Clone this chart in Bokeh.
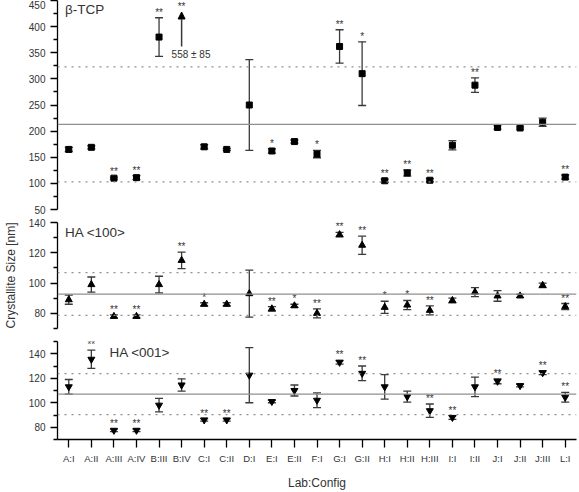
from bokeh.plotting import figure
from bokeh.models import (ColumnDataSource, Whisker, Span, FixedTicker, Label,
                          TeeHead, Arrow, NormalHead, Range1d)
from bokeh.layouts import column
from bokeh.embed import file_html
from bokeh.resources import INLINE
from bokeh.core.properties import value

# ---------------- data ----------------
configs = ["A:I", "A:II", "A:III", "A:IV", "B:III", "B:IV", "C:I", "C:II", "D:I",
           "E:I", "E:II", "F:I", "G:I", "G:II", "H:I", "H:II", "H:III", "I:I",
           "I:II", "J:I", "J:II", "J:III", "L:I"]

# beta-TCP crystallite size [nm]
tcp_mean = [165, 169, 110, 111, 380, 558, 170, 165, 250, 162, 180, 156, 362, 310,
            105, 120, 106, 173, 288, 207, 206, 217, 112]
tcp_err = [4, 3, 2, 4, 37, 85, 4, 2, 87, 4, 3, 7, 32, 61, 3, 6, 3, 9, 14, 3, 2, 8, 4]
tcp_sig = ["", "", "**", "**", "**", "**", "", "", "", "*", "", "*", "**", "*",
           "**", "**", "**", "", "**", "", "", "", "**"]
tcp_ref = [213, 103, 323]          # mean, lower, upper

# HA <100>
ha100_mean = [89, 99, 78, 78, 99, 115, 86, 86, 93, 83, 85, 80, 132, 125, 84, 85.5,
              82, 88.5, 94, 91.5, 91.5, 98.5, 84.5]
ha100_err = [3, 5, 1, 1, 5.5, 5.5, 1, 1, 15.5, 1.5, 1, 3, 1.5, 6, 4, 3, 3, 1.5, 3,
             3.5, 1, 1.5, 2]
ha100_sig = ["", "", "**", "**", "", "**", "*", "", "", "**", "*", "**", "**", "**",
             "*", "*", "**", "", "", "", "", "", "**"]
ha100_ref = [92.7, 78.7, 106.9]

# HA <001>
ha001_mean = [113, 135.5, 77.5, 77.5, 98, 114.5, 86, 86, 122.5, 101, 110, 102, 133,
              124, 113, 105, 93.5, 88, 113, 117.5, 114, 124.5, 104.5]
ha001_err = [6, 7.5, 1, 1, 5.5, 5, 1, 1, 22.5, 1, 4.5, 6, 1.5, 6, 10, 4.5, 5.5,
             1.5, 8, 2, 1, 1.5, 4]
ha001_sig = ["", "**", "**", "**", "", "", "**", "**", "", "", "", "", "**", "**",
             "", "", "**", "**", "", "**", "", "**", "**"]
ha001_ref = [107, 90.3, 123.8]

panel_titles = ["β-TCP", "HA <100>", "HA <001>"]
x_title = "Lab:Config"
y_title = "Crystallite Size [nm]"

# ---------------- style ----------------
FONT = "Liberation Sans"
TXT = "#333333"
BAR = "#3a3a3a"
REF = "#8f8f8f"


def make_panel(mean, err, sig, ref, y0, y1, major, minor, marker, msize,
               height, b_top, b_bottom, show_x):
    p = figure(x_range=configs, y_range=Range1d(y0, y1), width=579, height=height,
               output_backend="svg", toolbar_location=None,
               x_axis_location="below" if show_x else None,
               min_border_left=52, min_border_right=3,
               min_border_top=b_top, min_border_bottom=b_bottom)
    p.outline_line_color = None
    p.xgrid.visible = False
    p.ygrid.visible = False
    p.background_fill_color = "white"
    p.border_fill_color = "white"

    # reference lines
    p.add_layout(Span(location=ref[0], dimension="width", line_color=REF, line_width=1.3))
    for v in ref[1:]:
        p.add_layout(Span(location=v, dimension="width", line_color=REF,
                          line_width=1.3, line_dash="2 5"))

    keep = [i for i in range(len(configs)) if y0 <= mean[i] <= y1]
    src = ColumnDataSource(dict(
        x=[configs[i] for i in keep],
        y=[mean[i] for i in keep],
        upper=[mean[i] + err[i] for i in keep],
        lower=[mean[i] - err[i] for i in keep],
    ))
    w = Whisker(base="x", upper="upper", lower="lower", source=src, dimension="height",
                line_color=BAR, line_width=1.3,
                upper_head=TeeHead(size=8, line_color=BAR, line_width=1.3),
                lower_head=TeeHead(size=8, line_color=BAR, line_width=1.3))
    w.level = "underlay"
    p.add_layout(w)
    p.scatter("x", "y", source=src, marker=marker, size=msize,
              fill_color="black", line_color="black")

    sk = [i for i in keep if sig[i]]
    ssrc = ColumnDataSource(dict(x=[configs[i] for i in sk],
                                 y=[mean[i] + err[i] for i in sk],
                                 t=[sig[i] for i in sk]))
    p.text("x", "y", text="t", source=ssrc, text_align="center",
           text_baseline="bottom", text_font=value(FONT), text_font_size="10px",
           text_color=TXT)

    ax = p.yaxis[0]
    ax.ticker = FixedTicker(ticks=major, minor_ticks=minor)
    ax.axis_line_color = "black"
    ax.axis_line_width = 1.3
    ax.major_tick_line_color = "black"
    ax.major_tick_line_width = 1.3
    ax.minor_tick_line_color = "black"
    ax.minor_tick_line_width = 1.3
    ax.major_tick_out = 7
    ax.major_tick_in = 0
    ax.minor_tick_out = 4
    ax.minor_tick_in = 0
    ax.major_label_text_font = FONT
    ax.major_label_text_font_size = "10px"
    ax.major_label_text_color = TXT
    ax.major_label_standoff = 5

    if show_x:
        xa = p.xaxis[0]
        xa.axis_line_color = "black"
        xa.axis_line_width = 1.3
        xa.major_tick_line_color = "black"
        xa.major_tick_line_width = 1.3
        xa.major_tick_out = 8
        xa.major_tick_in = 0
        xa.major_label_text_font = FONT
        xa.major_label_text_font_size = "9.5px"
        xa.major_label_text_color = TXT
        xa.major_label_standoff = 5
        xa.axis_label = x_title
        xa.axis_label_text_font = FONT
        xa.axis_label_text_font_size = "12px"
        xa.axis_label_text_font_style = "normal"
        xa.axis_label_text_color = TXT
        xa.axis_label_standoff = 9
    return p


p1 = make_panel(tcp_mean, tcp_err, tcp_sig, tcp_ref, 50, 450,
                list(range(50, 451, 50)), list(range(75, 450, 50)),
                "square", 6, 215, 0, 6, False)
p2 = make_panel(ha100_mean, ha100_err, ha100_sig, ha100_ref, 70, 140,
                [80, 100, 120, 140], [70, 90, 110, 130],
                "triangle", 7, 119, 7, 6, False)
p3 = make_panel(ha001_mean, ha001_err, ha001_sig, ha001_ref, 70, 150,
                [80, 100, 120, 140], [70, 90, 110, 130, 150],
                "inverted_triangle", 7, 158, 7, 47, True)

# off-scale value for B:IV drawn as an arrow with its value written below
ib = configs.index("B:IV")
xb = ib + 0.5
p1.add_layout(Arrow(x_start=xb, y_start=362, x_end=xb, y_end=428,
                    line_color=BAR, line_width=1.5,
                    end=NormalHead(size=7, fill_color="black", line_color="black")))
p1.add_layout(Label(x=xb, y=347, x_offset=-10,
                    text=f"{tcp_mean[ib]} ± {tcp_err[ib]}",
                    text_align="left", text_baseline="middle", text_font=FONT,
                    text_font_size="10px", text_color=TXT))
p1.add_layout(Label(x=xb, y=428, text=tcp_sig[ib], text_align="center",
                    text_baseline="bottom", text_font=FONT, text_font_size="10px",
                    text_color=TXT))

# panel titles
for p, t, xx, yy in [(p1, panel_titles[0], 0.33, 433),
                     (p2, panel_titles[1], 0.33, 133.6),
                     (p3, panel_titles[2], 2.3, 141)]:
    p.add_layout(Label(x=xx, y=yy, text=t, text_align="left", text_baseline="middle",
                       text_font=FONT, text_font_size="13.5px", text_color=TXT))

# shared y-axis title on middle panel
ya = p2.yaxis[0]
ya.axis_label = y_title
ya.axis_label_text_font = FONT
ya.axis_label_text_font_size = "12px"
ya.axis_label_text_font_style = "normal"
ya.axis_label_text_color = TXT
ya.axis_label_standoff = 8

layout = column(p1, p2, p3, spacing=0)
open("out.html", "w").write(file_html(layout, INLINE))
